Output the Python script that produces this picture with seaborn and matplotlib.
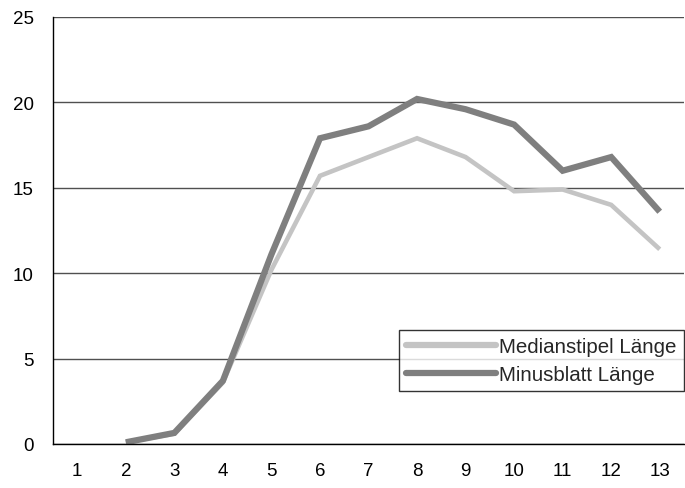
import matplotlib
matplotlib.use("Agg")
import matplotlib.pyplot as plt
import seaborn as sns
import pandas as pd
import numpy as np

categories = [1, 2, 3, 4, 5, 6, 7, 8, 9, 10, 11, 12, 13]
median_stipel = [None, 0.1, 0.6, 3.6, 10.2, 15.7, 16.8, 17.9, 16.8, 14.8, 14.9, 14.0, 11.4]
minusblatt = [None, 0.1, 0.65, 3.7, 11.1, 17.9, 18.6, 20.2, 19.6, 18.7, 16.0, 16.8, 13.6]
series_names = ["Medianstipel Länge", "Minusblatt Länge"]

sns.set_theme(style="white")
plt.rcParams["font.family"] = ["Liberation Sans", "DejaVu Sans"]

df = pd.DataFrame({
    "Kategorie": categories * 2,
    "Wert": [np.nan if v is None else v for v in median_stipel + minusblatt],
    "Serie": [series_names[0]] * len(categories) + [series_names[1]] * len(categories),
})

fig = plt.figure(figsize=(6.85, 4.89), dpi=100)
ax = fig.add_axes([53 / 685, 44 / 489, (684 - 53) / 685, (445 - 18) / 489])

sns.lineplot(data=df, x="Kategorie", y="Wert", hue="Serie",
             palette={series_names[0]: "#c4c4c4", series_names[1]: "#7f7f7f"},
             linewidth=4.5, ax=ax, sort=False)
for line, lw in zip(ax.get_lines(), [3.3, 4.5]):
    line.set_linewidth(lw)
    line.set_solid_joinstyle("miter")
    line.set_solid_capstyle("butt")

ax.set_xlim(0.5, 13.5)
ax.set_ylim(0, 25)
ax.set_yticks([0, 5, 10, 15, 20, 25])
ax.set_xticks(categories)
ax.set_xticks(np.arange(0.5, 13.6, 1), minor=True)
ax.tick_params(axis="x", which="major", length=0, pad=13, labelsize=13.5, colors="black")
ax.tick_params(axis="x", which="minor", length=5, width=1, color="black", direction="out")
ax.tick_params(axis="y", which="major", length=5, width=1, color="#606060", direction="out",
               labelsize=13.5, pad=9, labelcolor="black")
ax.yaxis.grid(True, color="#505050", linewidth=1)
ax.set_axisbelow(True)
for side in ["top", "right"]:
    ax.spines[side].set_visible(False)
for side in ["left", "bottom"]:
    ax.spines[side].set_color("black")
    ax.spines[side].set_linewidth(1)
ax.set_xlabel("")
ax.set_ylabel("")

leg = ax.legend(loc="lower right", bbox_to_anchor=(1.0, 0.124), frameon=True,
                fancybox=False, edgecolor="black", fontsize=14.8, handlelength=4.4,
                handletextpad=0.15, borderpad=0.35, labelspacing=0.42, title=None,
                borderaxespad=0)
leg.get_frame().set_linewidth(1)
leg.get_frame().set_facecolor("white")

fig.savefig("out.png", dpi=100)
